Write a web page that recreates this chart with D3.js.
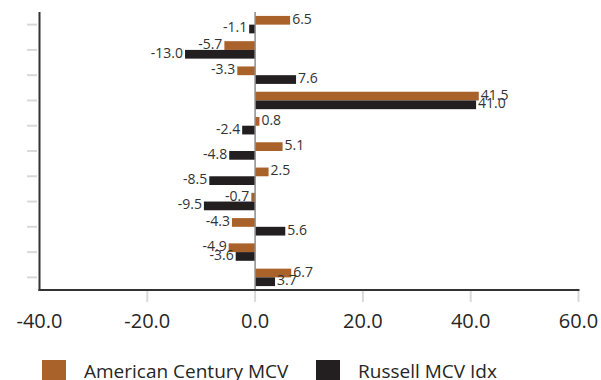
<!DOCTYPE html>
<html>
<head>
<meta charset="utf-8">
<script src="https://cdn.jsdelivr.net/npm/d3@7"></script>
<style>
  html, body { margin: 0; padding: 0; background: #fff; }
  svg { display: block; font-family: "Open Sans", sans-serif; }
</style>
</head>
<body>
<svg id="chart" width="601" height="380"></svg>
<script>
const categories = ["1", "2", "3", "4", "5", "6", "7", "8", "9", "10", "11"];
const seriesNames = ["American Century MCV", "Russell MCV Idx"];
const americanCentury = [6.5, -5.7, -3.3, 41.5, 0.8, 5.1, 2.5, -0.7, -4.3, -4.9, 6.7];
const russell = [-1.1, -13.0, 7.6, 41.0, -2.4, -4.8, -8.5, -9.5, 5.6, -3.6, 3.7];
const xTicks = [-40, -20, 0, 20, 40, 60];
const colors = ["#A9622A", "#231F20"];

const svg = d3.select("#chart");
const mLeft = 39.5, mRight = 578.5, mTop = 12, mBottom = 290;

const x = d3.scaleLinear().domain([-40, 60]).range([mLeft, mRight]);
const y = d3.scaleBand().domain(categories).range([mTop, mBottom]).paddingInner(0.31).paddingOuter(0.155);
const yBand = d3.scaleBand().domain(categories).range([mTop, mBottom]);
const inner = d3.scaleBand().domain(seriesNames).range([0, y.bandwidth()]);

const seriesData = [americanCentury, russell];

// left ticks (light gray, outside axis)
svg.append("g").selectAll("line").data(categories).join("line")
  .attr("x1", 27).attr("x2", 37)
  .attr("y1", d => yBand(d) + yBand.bandwidth() / 2)
  .attr("y2", d => yBand(d) + yBand.bandwidth() / 2)
  .attr("stroke", "#d9d9d9").attr("stroke-width", 2);

// bottom ticks
svg.append("g").selectAll("line").data(xTicks.filter(t => t !== -40)).join("line")
  .attr("x1", d => x(d)).attr("x2", d => x(d))
  .attr("y1", mBottom + 1).attr("y2", mBottom + 12)
  .attr("stroke", "#d9d9d9").attr("stroke-width", 2);

// bars
seriesData.forEach((vals, si) => {
  const g = svg.append("g");
  g.selectAll("rect").data(vals).join("rect")
    .attr("x", d => x(Math.min(0, d)))
    .attr("width", d => Math.abs(x(d) - x(0)))
    .attr("y", (d, i) => y(categories[i]) + inner(seriesNames[si]))
    .attr("height", inner.bandwidth())
    .attr("fill", colors[si]);
  g.selectAll("text").data(vals).join("text")
    .attr("x", d => d >= 0 ? x(d) + 2 : x(d) - 2)
    .attr("y", (d, i) => y(categories[i]) + inner(seriesNames[si]) + inner.bandwidth() / 2 + 3.5)
    .attr("text-anchor", d => d >= 0 ? "start" : "end")
    .attr("font-size", 14)
    .attr("fill", "#333")
    .text(d => d.toFixed(1));
});

// zero line
svg.append("line")
  .attr("x1", x(0)).attr("x2", x(0)).attr("y1", mTop).attr("y2", mBottom)
  .attr("stroke", "#8c8c8c").attr("stroke-width", 1.5);

// axes lines
svg.append("line").attr("x1", mLeft).attr("x2", mLeft).attr("y1", mTop).attr("y2", mBottom + 1)
  .attr("stroke", "#333").attr("stroke-width", 2);
svg.append("line").attr("x1", mLeft - 1).attr("x2", mRight + 1).attr("y1", mBottom).attr("y2", mBottom)
  .attr("stroke", "#333").attr("stroke-width", 2);

// x tick labels
svg.append("g").selectAll("text").data(xTicks).join("text")
  .attr("x", d => x(d)).attr("y", 328)
  .attr("text-anchor", "middle")
  .attr("font-size", 20)
  .attr("fill", "#262626")
  .text(d => d.toFixed(1));

// legend
const legendX = [42, 316];
const lg = svg.append("g");
seriesNames.forEach((name, i) => {
  lg.append("rect").attr("x", legendX[i]).attr("y", 360).attr("width", 24).attr("height", 24).attr("fill", colors[i]);
  lg.append("text").attr("x", legendX[i] + 42).attr("y", 378)
    .attr("font-size", 19).attr("fill", "#262626").text(name);
});
</script>
</body>
</html>
